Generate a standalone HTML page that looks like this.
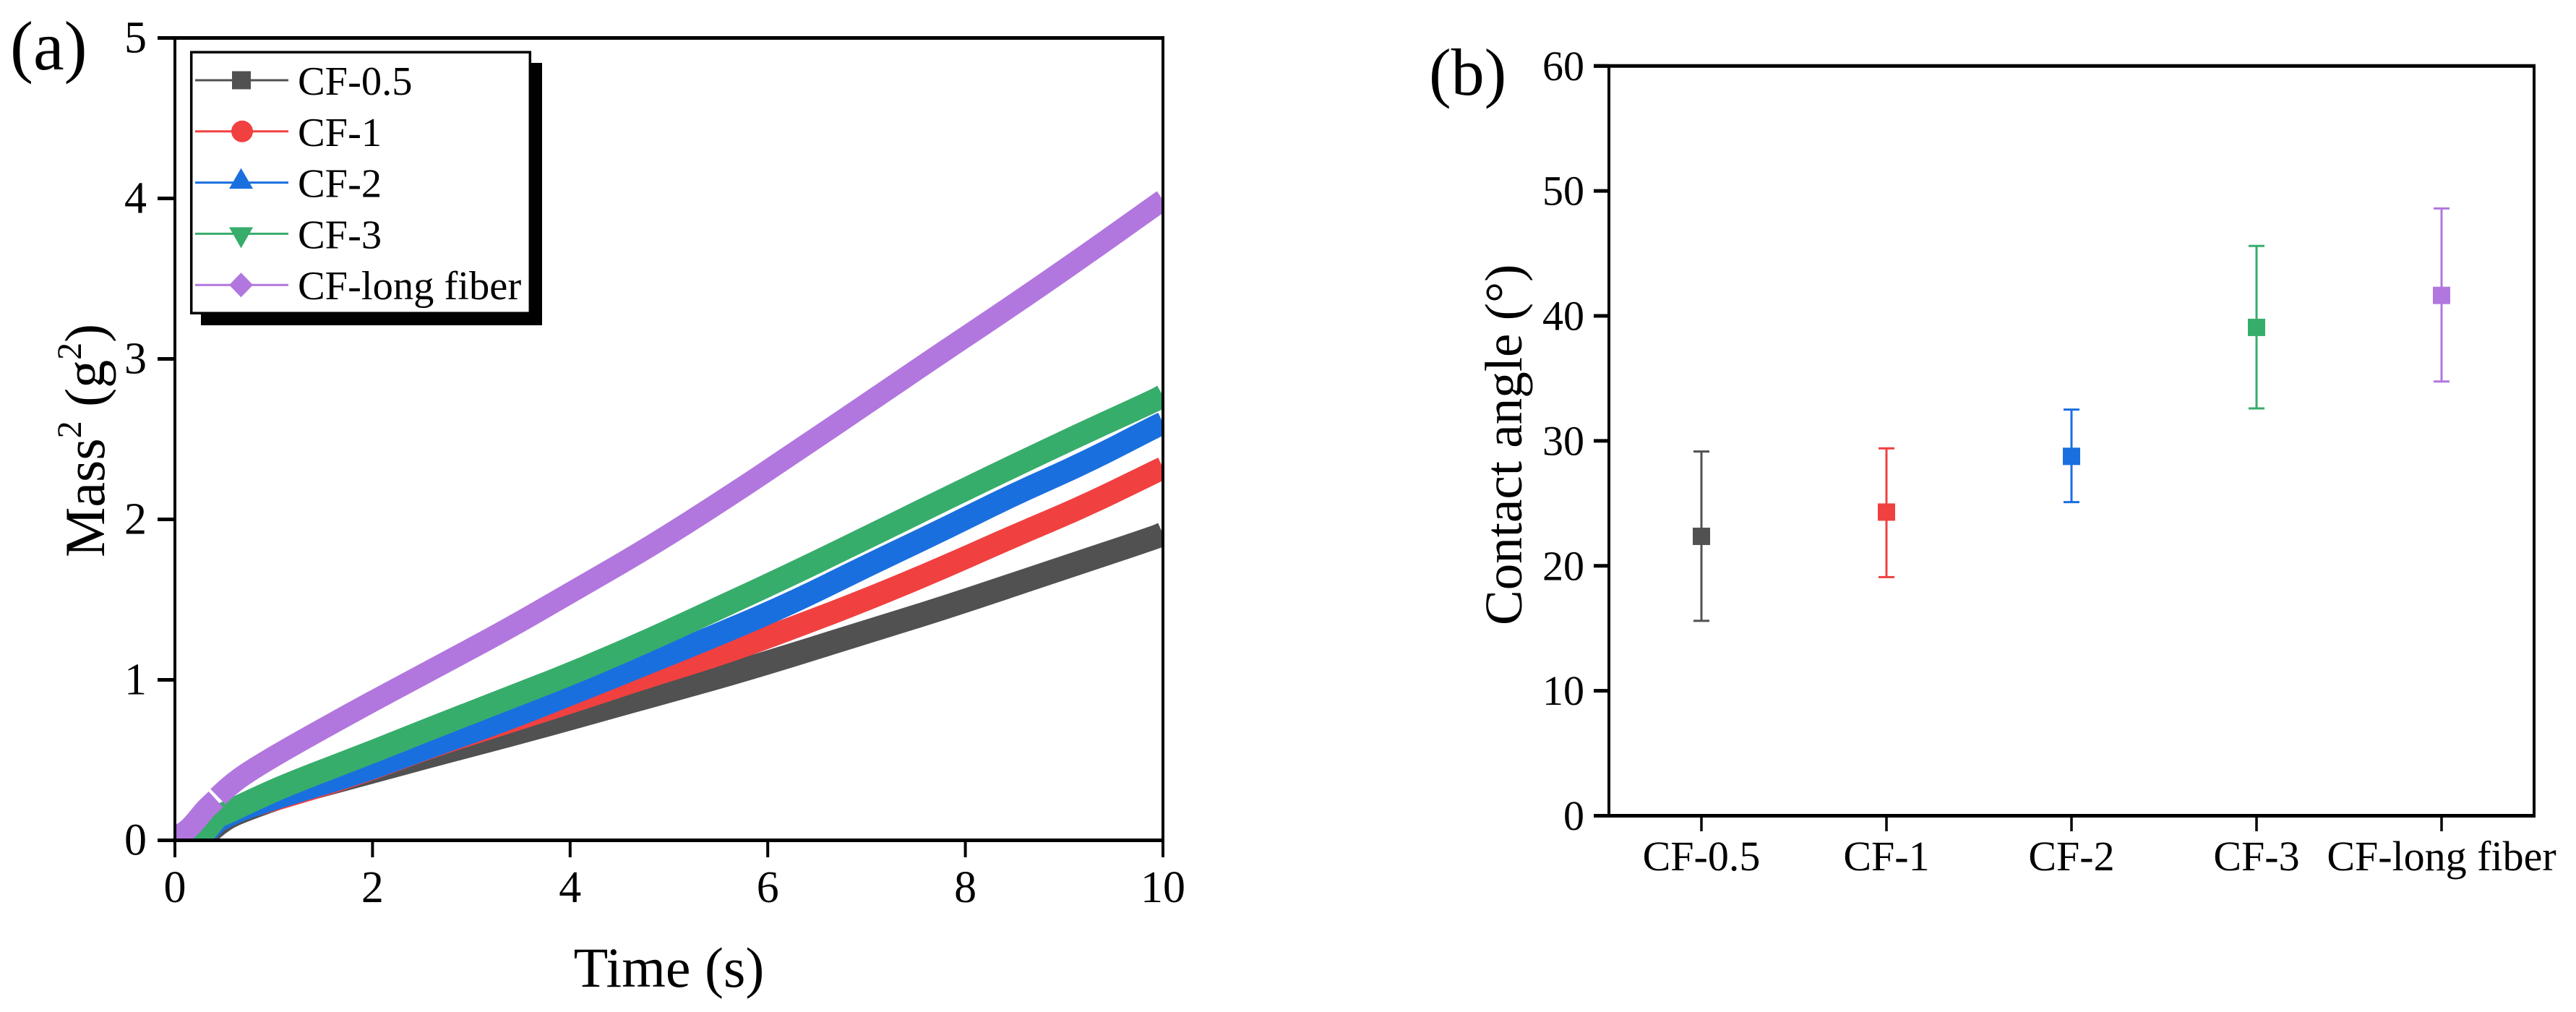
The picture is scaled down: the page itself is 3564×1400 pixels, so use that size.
<!DOCTYPE html>
<html lang="en">
<head>
<meta charset="utf-8">
<title>Mass squared vs time and contact angle</title>
<style>
  html, body { margin: 0; padding: 0; background: #fff; }
  svg { display: block; }
  text { font-family: "Liberation Serif", "Times New Roman", serif; fill: #000; }
</style>
</head>
<body>
<svg id="figure" xmlns="http://www.w3.org/2000/svg" width="3564" height="1400" viewBox="0 0 3564 1400">
  <rect x="0" y="0" width="3564" height="1400" fill="#fff"/>
  <defs>
    <clipPath id="plot-a-clip"><rect x="244" y="54.5" width="1363" height="1105.5"/></clipPath>
  </defs>
  <text x="14" y="96" font-size="96">(a)</text>
  <text x="1977" y="131" font-size="92">(b)</text>
  <text x="925.5" y="1365" font-size="78" text-anchor="middle">Time (s)</text>
  <text transform="translate(144,771) rotate(-90)" font-size="78">Mass<tspan font-size="48" dy="-32">2</tspan><tspan dy="32"> (g</tspan><tspan font-size="48" dy="-32">2</tspan><tspan dy="32">)</tspan></text>
  <text transform="translate(2105,865) rotate(-90)" font-size="73">Contact angle (°)</text>
  <g id="series-a" clip-path="url(#plot-a-clip)"></g>
  <g id="axes-a"></g>
  <g id="legend-a"></g>
  <g id="axes-b"></g>
  <g id="points-b"></g>
</svg>
<script>
// ---------- Panel (a) data ----------
const sampleTimes = [0, 0.1, 0.2, 0.3, 0.415, 0.435, 0.55, 0.75, 1.16, 1.89, 2.62, 3.35, 4.08, 4.81, 5.55, 6.28, 7.0, 7.74, 8.47, 9.2, 9.93, 10];
const massGray   = [0, 0, 0, 0.03, 0.09, 0.1, 0.15, 0.2, 0.29, 0.41, 0.533, 0.65, 0.773, 0.9, 1.025, 1.16, 1.3, 1.44, 1.59, 1.74, 1.89, 1.91];
const massRed    = [0, 0, 0, 0.03, 0.12, 0.14, 0.18, 0.21, 0.28, 0.42, 0.59, 0.732, 0.876, 1.025, 1.165, 1.33, 1.5, 1.69, 1.89, 2.08, 2.3, 2.32];
const massBlue   = [0, 0, 0, 0.04, 0.11, 0.12, 0.16, 0.21, 0.29, 0.425, 0.592, 0.75, 0.93, 1.11, 1.295, 1.49, 1.71, 1.926, 2.15, 2.349, 2.58, 2.6];
const massGreen  = [0, 0, 0, 0.05, 0.14, 0.15, 0.18, 0.24, 0.354, 0.525, 0.705, 0.88, 1.055, 1.25, 1.46, 1.67, 1.885, 2.11, 2.327, 2.54, 2.745, 2.77];
const massPurple = [0.02, 0.05, 0.11, 0.19, 0.255, 0.272, 0.34, 0.43, 0.58, 0.83, 1.07, 1.31, 1.57, 1.83, 2.12, 2.42, 2.72, 3.03, 3.33, 3.64, 3.96, 3.99];
const seriesNames = ["CF-0.5", "CF-1", "CF-2", "CF-3", "CF-long fiber"];
const seriesColors = ["#515151", "#F14040", "#1A6FDF", "#37AD6B", "#B177DE"];
const seriesShapes = ["square", "circle", "up", "down", "diamond"];
const xTicksA = [0, 2, 4, 6, 8, 10];
const yTicksA = [0, 1, 2, 3, 4, 5];

// ---------- Panel (b) data ----------
const categories = ["CF-0.5", "CF-1", "CF-2", "CF-3", "CF-long fiber"];
const angleMeans = [22.36, 24.3, 28.76, 39.08, 41.64];
const angleUpper = [29.15, 29.4, 32.5, 45.6, 48.6];
const angleLower = [15.6, 19.1, 25.1, 32.6, 34.75];
const yTicksB = [0, 10, 20, 30, 40, 50, 60];

// ---------- Axis functions ----------
const xA = t => 242 + t * 136.7;
const yA = v => 1162.5 - v * 222;
const xB = c => 2226 + (c - 0.5) * 256;
const yB = v => 1128.5 - v * 17.287;

const NS = "http://www.w3.org/2000/svg";
function make(tag, attrs, parent, txt) {
  const el = document.createElementNS(NS, tag);
  for (const k in attrs) el.setAttribute(k, attrs[k]);
  if (txt !== undefined) el.textContent = txt;
  parent.appendChild(el);
  return el;
}
// Smooth path through the samples: quadratic segments between midpoints.
function pathFrom(times, values, from, to) {
  const px = i => xA(times[i]);
  const py = i => yA(values[i]);
  let d = "M" + px(from).toFixed(1) + " " + py(from).toFixed(1);
  for (let i = from + 1; i < to; i++) {
    const mx = (px(i) + px(i + 1)) / 2;
    const my = (py(i) + py(i + 1)) / 2;
    d += "Q" + px(i).toFixed(1) + " " + py(i).toFixed(1) + " " + mx.toFixed(1) + " " + my.toFixed(1);
  }
  d += "L" + px(to).toFixed(1) + " " + py(to).toFixed(1);
  return d;
}
function markerPath(shape, cx, cy) {
  if (shape === "up") return `M${cx} ${cy - 20}L${cx + 16.5} ${cy + 8.5}L${cx - 16.5} ${cy + 8.5}Z`;
  if (shape === "down") return `M${cx - 16.5} ${cy - 9}L${cx + 16.5} ${cy - 9}L${cx} ${cy + 20}Z`;
  if (shape === "diamond") return `M${cx} ${cy - 17}L${cx + 16.5} ${cy}L${cx} ${cy + 17}L${cx - 16.5} ${cy}Z`;
  return "";
}

// ---------- Panel (a) series ----------
const seriesGroup = document.getElementById("series-a");
const seriesValues = [massGray, massRed, massBlue, massGreen, massPurple];
const bandWidths = [33, 31.5, 31.5, 32, 29.5];
seriesValues.forEach((vals, s) => {
  // The purple trace has a small acquisition break, so it is drawn in two runs.
  const runs = s === 4 ? [[0, 4], [5, vals.length - 1]] : [[0, vals.length - 1]];
  runs.forEach(run => {
    const line = make("path", {
      d: pathFrom(sampleTimes, vals, run[0], run[1]),
      fill: "none",
      stroke: seriesColors[s],
      "stroke-width": bandWidths[s],
      "stroke-linejoin": "round",
      "stroke-linecap": "butt"
    }, seriesGroup);
    
    
  });
});

// ---------- Axes (a) ----------
const axesA = document.getElementById("axes-a");
const topA = make("line", { x1: 218, x2: 1611, y1: yA(5), y2: yA(5), stroke: "#000", "stroke-width": 5 }, axesA);


const bottomA = make("line", { x1: 218, x2: 1611, y1: yA(0), y2: yA(0), stroke: "#000", "stroke-width": 5 }, axesA);


const leftA = make("line", { x1: xA(0), x2: xA(0), y1: yA(5), y2: 1186, stroke: "#000", "stroke-width": 4 }, axesA);


const rightA = make("line", { x1: xA(10), x2: xA(10), y1: yA(5), y2: 1186, stroke: "#000", "stroke-width": 4 }, axesA);



xTicksA.forEach(t => {
  const tick = make("line", { x1: xA(t), x2: xA(t), y1: yA(0), y2: 1186, stroke: "#000", "stroke-width": 4 }, axesA);
  
  
  const label = make("text", { x: xA(t), y: 1248, "font-size": 62, "text-anchor": "middle" }, axesA, String(t));
  
  
});
yTicksA.forEach(v => {
  const tick = make("line", { x1: 218, x2: xA(0), y1: yA(v), y2: yA(v), stroke: "#000", "stroke-width": 5 }, axesA);
  
  
  const label = make("text", { x: 203, y: yA(v) + 20, "font-size": 62, "text-anchor": "end" }, axesA, String(v));
  
  
});

// ---------- Legend ----------
const legend = document.getElementById("legend-a");
const shadow = make("rect", { x: 278, y: 87, width: 472, height: 363, fill: "#000" }, legend);


const frame = make("rect", { x: 264.7, y: 72.2, width: 468.6, height: 361, fill: "#fff", stroke: "#000", "stroke-width": 3.5 }, legend);


seriesNames.forEach((name, i) => {
  const cy = 111 + i * 70.8;
  const cx = 334;
  const entry = make("g", {}, legend);
  
  
  const sample = make("line", { x1: 270, x2: 399, y1: cy, y2: cy, stroke: seriesColors[i], "stroke-width": 3 }, entry);
  
  
  let marker;
  if (seriesShapes[i] === "square") {
    marker = make("rect", { x: cx - 13, y: cy - 12.5, width: 26, height: 25, fill: seriesColors[i] }, entry);
  } else if (seriesShapes[i] === "circle") {
    marker = make("circle", { cx: cx + 1, cy: cy, r: 15, fill: seriesColors[i] }, entry);
  } else {
    marker = make("path", { d: markerPath(seriesShapes[i], cx - 0.5, cy), fill: seriesColors[i] }, entry);
  }
  
  
  const label = make("text", { x: 412, y: cy + 20, "font-size": 56.5 }, entry, name);
  
  
});

// ---------- Axes (b) ----------
const axesB = document.getElementById("axes-b");
const topB = make("line", { x1: 2205, x2: 3508, y1: yB(60), y2: yB(60), stroke: "#000", "stroke-width": 5 }, axesB);


const bottomB = make("line", { x1: 2205, x2: 3508, y1: yB(0), y2: yB(0), stroke: "#000", "stroke-width": 5 }, axesB);


const leftB = make("line", { x1: xB(0.5), x2: xB(0.5), y1: yB(60), y2: yB(0), stroke: "#000", "stroke-width": 4 }, axesB);


const rightB = make("line", { x1: xB(5.5), x2: xB(5.5), y1: yB(60), y2: yB(0), stroke: "#000", "stroke-width": 4 }, axesB);



yTicksB.forEach(v => {
  const tick = make("line", { x1: 2205, x2: xB(0.5), y1: yB(v), y2: yB(v), stroke: "#000", "stroke-width": 5 }, axesB);
  
  
  const label = make("text", { x: 2192, y: yB(v) + 19.5, "font-size": 58, "text-anchor": "end" }, axesB, String(v));
  
  
});
categories.forEach((name, i) => {
  const tick = make("line", { x1: xB(i + 1), x2: xB(i + 1), y1: yB(0), y2: 1150, stroke: "#000", "stroke-width": 3.5 }, axesB);
  
  
  const label = make("text", { x: xB(i + 1), y: 1204, "font-size": 58, "text-anchor": "middle" }, axesB, name);
  
  
});

// ---------- Panel (b) points ----------
const pointsB = document.getElementById("points-b");
categories.forEach((name, i) => {
  const cx = xB(i + 1);
  const color = seriesColors[i];
  const stem = make("line", { x1: cx, x2: cx, y1: yB(angleUpper[i]), y2: yB(angleLower[i]), stroke: color, "stroke-width": 3 }, pointsB);
  
  
  const capTop = make("line", { x1: cx - 11, x2: cx + 11, y1: yB(angleUpper[i]), y2: yB(angleUpper[i]), stroke: color, "stroke-width": 3 }, pointsB);
  
  
  const capBottom = make("line", { x1: cx - 11, x2: cx + 11, y1: yB(angleLower[i]), y2: yB(angleLower[i]), stroke: color, "stroke-width": 3 }, pointsB);
  
  
  const point = make("rect", { x: cx - 12, y: yB(angleMeans[i]) - 12, width: 24, height: 24, fill: color }, pointsB);
  
  
});
</script>
</body>
</html>
